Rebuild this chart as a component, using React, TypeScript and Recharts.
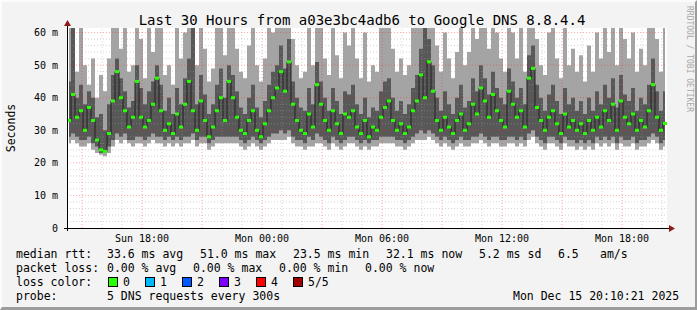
import React from "react";
import { ComposedChart, Area, Line, XAxis, YAxis, ReferenceLine } from "recharts";

// time axis: hours since Sun 00:00, one column per 12 minutes
const startHour = 14.25;
const stepHours = 0.2;

// round trip times in ms, 5 sorted pings per column
const medianMs = [
  33, 41, 34, 36, 30, 37, 33, 27, 24, 23.5,
  29, 39, 48, 40, 36, 31, 34, 45, 34, 31,
  33, 38, 46, 36, 30, 32, 29, 35, 31, 38,
  45, 36, 30, 39, 33, 28, 31, 36, 40, 33,
  45, 40, 34, 30, 29, 33, 36, 30, 28, 32,
  36, 40, 43, 48, 42, 51, 38, 33, 30, 29,
  35, 31, 44, 38, 33, 30, 36, 32, 29, 35,
  34, 36, 31, 29, 33, 28, 31, 30, 34, 37,
  39, 33, 30, 32, 29, 31, 36, 39, 47, 40,
  51, 42, 33, 30, 34, 31, 29, 33, 35, 30,
  32, 38, 35, 43, 39, 34, 41, 36, 33, 31,
  42, 38, 34, 36, 31, 46, 49, 37, 33, 30,
  34, 36, 32, 29, 35, 31, 33, 30, 32, 29,
  33, 30, 34, 31, 36, 33, 38, 30, 39, 34,
  32, 35, 30, 33, 31, 36, 44, 34, 30, 32.1,
];
const maxMs = [
  65, 65, 48, 65, 50, 44, 52, 40, 47, 42,
  52, 65, 65, 55, 65, 48, 50, 65, 58, 46,
  65, 54, 65, 65, 47, 50, 44, 65, 52, 60,
  65, 65, 50, 65, 55, 45, 49, 65, 65, 53,
  65, 65, 55, 48, 46, 56, 65, 50, 45, 52,
  65, 60, 65, 65, 65, 65, 58, 50, 46, 48,
  65, 50, 65, 62, 52, 47, 65, 53, 46, 60,
  56, 65, 52, 46, 60, 45, 50, 48, 65, 65,
  65, 55, 48, 52, 47, 50, 65, 65, 65, 65,
  65, 65, 56, 48, 60, 52, 46, 54, 65, 50,
  54, 65, 58, 65, 65, 55, 65, 60, 52, 48,
  65, 60, 52, 65, 48, 65, 65, 58, 50, 47,
  60, 65, 52, 46, 65, 50, 55, 48, 53, 45,
  56, 48, 60, 52, 65, 54, 65, 50, 65, 58,
  52, 60, 48, 55, 50, 65, 65, 58, 48, 65,
];
const q3Ms = [
  45, 65, 40, 44, 38, 42, 40, 34, 35, 30,
  38, 47, 52, 46, 42, 37, 39, 50, 43, 38,
  42, 45, 50, 44, 36, 40, 35, 43, 38, 46,
  52, 65, 38, 47, 41, 35, 38, 44, 49, 40,
  50, 47, 42, 37, 35, 40, 44, 37, 34, 39,
  44, 48, 50, 56, 49, 58, 45, 40, 37, 36,
  43, 38, 51, 45, 40, 36, 43, 39, 35, 42,
  41, 44, 38, 35, 40, 34, 37, 36, 42, 45,
  46, 40, 36, 39, 35, 38, 43, 47, 55, 65,
  58, 50, 40, 36, 42, 38, 35, 40, 44, 37,
  39, 46, 42, 50, 46, 41, 48, 43, 40, 38,
  49, 45, 40, 43, 38, 53, 56, 44, 40, 36,
  41, 44, 39, 35, 43, 38, 40, 36, 39, 35,
  40, 36, 42, 38, 44, 40, 46, 37, 47, 41,
  39, 43, 36, 40, 38, 44, 52, 42, 36, 42,
];
const q1Ms = [
  28, 29, 28, 27, 27, 28, 26, 25, 23, 23,
  25, 27, 29, 28, 29, 27, 27, 28, 28, 27,
  28, 29, 28, 28, 27, 28, 27, 28, 27, 28,
  28, 29, 27, 28, 28, 26, 27, 28, 28, 28,
  28, 28, 28, 27, 26, 27, 28, 27, 26, 27,
  28, 29, 29, 30, 29, 30, 28, 27, 27, 26,
  28, 27, 29, 28, 27, 26, 28, 27, 26, 27,
  28, 28, 27, 26, 27, 26, 27, 27, 28, 28,
  28, 28, 27, 27, 26, 27, 28, 29, 30, 29,
  30, 29, 28, 27, 28, 27, 26, 27, 28, 27,
  27, 28, 28, 29, 28, 27, 28, 28, 27, 27,
  28, 28, 27, 28, 27, 29, 30, 28, 27, 26,
  28, 28, 27, 26, 28, 27, 27, 26, 27, 26,
  27, 26, 28, 27, 28, 27, 28, 26, 28, 27,
  27, 28, 26, 27, 27, 28, 29, 28, 26, 27,
];
const minMs = [
  26, 27, 26, 25, 25, 26, 24, 23, 22.5, 22,
  23, 25, 27, 26, 27, 26, 25, 26, 26, 25,
  26, 27, 26, 26, 25, 26, 25, 26, 25, 26,
  26, 27, 25, 26, 26, 24, 25, 26, 26, 26,
  26, 26, 26, 25, 24, 25, 26, 25, 24, 25,
  26, 27, 27, 27, 27, 28, 26, 25, 25, 24,
  25, 25, 26, 26, 25, 24, 26, 25, 24, 25,
  26, 26, 25, 24, 25, 24, 25, 25, 26, 26,
  26, 26, 25, 25, 24, 25, 26, 27, 27, 27,
  28, 27, 26, 25, 26, 25, 24, 25, 26, 25,
  25, 26, 26, 27, 26, 25, 26, 26, 25, 25,
  26, 26, 25, 26, 25, 27, 28, 26, 25, 24,
  26, 26, 25, 24, 26, 25, 25, 24, 25, 24,
  25, 24, 26, 25, 26, 25, 26, 24, 26, 25,
  25, 26, 24, 25, 25, 26, 27, 26, 24, 25,
];

const xTicks = [18, 24, 30, 36, 42];
const xTickLabels = ["Sun 18:00", "Mon 00:00", "Mon 06:00", "Mon 12:00", "Mon 18:00"];
const yTicks = [0, 10, 20, 30, 40, 50, 60];

const lossColors = ["#26ff00", "#00b8ff", "#0059ff", "#7e00ff", "#ff0000", "#a10000"];
const lossLabels = ["0", "1", "2", "3", "4", "5/5"];

const rows = medianMs.map((m, i) => ({
  t: startHour + stepHours * (i + 0.5),
  outer: [minMs[i], maxMs[i]],
  inner: [q1Ms[i], q3Ms[i]],
  median: m,
}));

// grid positions
const hourLines = Array.from({ length: 30 }, (_, k) => 15 + k);
const msLines = Array.from({ length: 30 }, (_, k) => 2 + k * 2);

const mono = "'DejaVu Sans Mono', monospace";

const MedianMark = (props: any) => {
  const { cx, cy, index } = props;
  if (cx == null || cy == null) return <g key={index} />;
  return <rect key={index} x={cx - 2} y={cy - 1.5} width={4} height={3} fill="#26ff00" />;
};

const txt = (x: number, y: number, s: string, extra: React.CSSProperties = {}) => (
  <div
    style={{
      position: "absolute",
      left: x,
      top: y - 7,
      fontFamily: mono,
      fontSize: 11.5,
      lineHeight: "14px",
      whiteSpace: "pre",
      color: "#000",
      ...extra,
    }}
  >
    {s}
  </div>
);

export default function App() {
  return (
    <div
      style={{
        position: "fixed",
        left: 0,
        top: 0,
        width: 697,
        height: 310,
        background: "#f3f3f3",
        boxSizing: "border-box",
        borderTop: "2px solid #fcfcfc",
        borderLeft: "2px solid #fcfcfc",
        borderRight: "2px solid #9c9c9c",
        borderBottom: "3px solid #9c9c9c",
        overflow: "hidden",
      }}
    >
      <div style={{ position: "absolute", left: -2, top: -2 }}>
        <div style={{ position: "absolute", left: 67, top: 28, width: 600, height: 200, background: "#fff" }} />
        <ComposedChart
          width={697}
          height={310}
          data={rows}
          margin={{ top: 28, right: 30, bottom: 0, left: 0 }}
          style={{ position: "absolute", left: 0, top: 0 }}
        >
          <XAxis
            dataKey="t"
            type="number"
            domain={[startHour, startHour + 30]}
            ticks={xTicks}
            tickFormatter={(v: number) => xTickLabels[xTicks.indexOf(v)]}
            height={82}
            axisLine={false}
            tickLine={false}
            tickSize={5}
            tick={{ fontFamily: mono, fontSize: 10, fill: "#000" }}
            allowDataOverflow
          />
          <YAxis
            type="number"
            domain={[0, 61.4]}
            ticks={yTicks}
            tickFormatter={(v: number) => (v === 0 ? "0" : `${v} m`)}
            width={67}
            axisLine={false}
            tickLine={false}
            tickSize={7}
            tick={{ fontFamily: mono, fontSize: 10, fill: "#000" }}
            allowDataOverflow
          />
          <Area
            dataKey="outer"
            type="step"
            stroke="none"
            fill="#a4a4a4"
            fillOpacity={1}
            isAnimationActive={false}
          />
          <Area
            dataKey="inner"
            type="step"
            stroke="none"
            fill="#585858"
            fillOpacity={1}
            isAnimationActive={false}
          />
          {msLines.map((v) => (
            <ReferenceLine
              key={"h" + v}
              y={v}
              stroke={v % 10 === 0 ? "#ff2020" : "#a0a0a0"}
              strokeOpacity={v % 10 === 0 ? 0.4 : 0.45}
              strokeDasharray="1 2"
            />
          ))}
          {hourLines.map((h) => (
            <ReferenceLine
              key={"v" + h}
              x={h}
              stroke={h % 3 === 0 ? "#ff2020" : "#a0a0a0"}
              strokeOpacity={h % 3 === 0 ? 0.4 : 0.45}
              strokeDasharray="1 2"
            />
          ))}
          <Line
            dataKey="median"
            type="step"
            stroke="#202020"
            strokeWidth={1}
            dot={false}
            activeDot={false}
            isAnimationActive={false}
          />
          <Line
            dataKey="median"
            stroke="none"
            dot={MedianMark}
            activeDot={false}
            isAnimationActive={false}
          />
        </ComposedChart>
        <svg width={697} height={310} style={{ position: "absolute", left: 0, top: 0, pointerEvents: "none" }}>
          <line x1={67.5} y1={24} x2={67.5} y2={231} stroke="#000" />
          <line x1={64} y1={228.5} x2={670} y2={228.5} stroke="#000" />
          <polygon points="64,26 71,26 67.5,20" fill="#8b1a1a" />
          <polygon points="669,225 669,232 675,228.5" fill="#8b1a1a" />
        </svg>
        <div
          style={{
            position: "absolute",
            left: 0,
            top: 12,
            width: 724,
            textAlign: "center",
            fontFamily: mono,
            fontSize: 14,
            lineHeight: "16px",
            whiteSpace: "pre",
          }}
        >
          Last 30 Hours from a03e3bc4adb6 to Google DNS 8.8.4.4
        </div>
        <div
          style={{
            position: "absolute",
            left: 11,
            top: 128,
            transform: "translate(-50%, -50%) rotate(-90deg)",
            fontFamily: mono,
            fontSize: 11.5,
            whiteSpace: "pre",
          }}
        >
          Seconds
        </div>
        <div
          style={{
            position: "absolute",
            left: 689,
            top: 59,
            transform: "translate(-50%, -50%) rotate(90deg)",
            fontFamily: mono,
            fontSize: 8,
            color: "#a8a8a8",
            whiteSpace: "pre",
          }}
        >
          RRDTOOL / TOBI OETIKER
        </div>
        {txt(16, 254, "median rtt:")}
        {txt(107, 254, "33.6 ms avg")}
        {txt(200, 254, "51.0 ms max")}
        {txt(293, 254, "23.5 ms min")}
        {txt(386, 254, "32.1 ms now")}
        {txt(479, 254, "5.2 ms sd")}
        {txt(558, 254, "6.5")}
        {txt(600, 254, "am/s")}
        {txt(16, 268, "packet loss:")}
        {txt(107, 268, "0.00 % avg")}
        {txt(193, 268, "0.00 % max")}
        {txt(279, 268, "0.00 % min")}
        {txt(365, 268, "0.00 % now")}
        {txt(16, 282, "loss color:")}
        {lossColors.map((c, k) => (
          <div
            key={c}
            style={{
              position: "absolute",
              left: 108 + k * 37,
              top: 277,
              width: 8,
              height: 8,
              background: c,
              border: "1px solid #000",
            }}
          />
        ))}
        {lossLabels.map((l, k) => txt(123 + k * 37, 282, l))}
        {txt(16, 296, "probe:")}
        {txt(107, 296, "5 DNS requests every 300s")}
        {txt(513, 296, "Mon Dec 15 20:10:21 2025")}
      </div>
    </div>
  );
}
